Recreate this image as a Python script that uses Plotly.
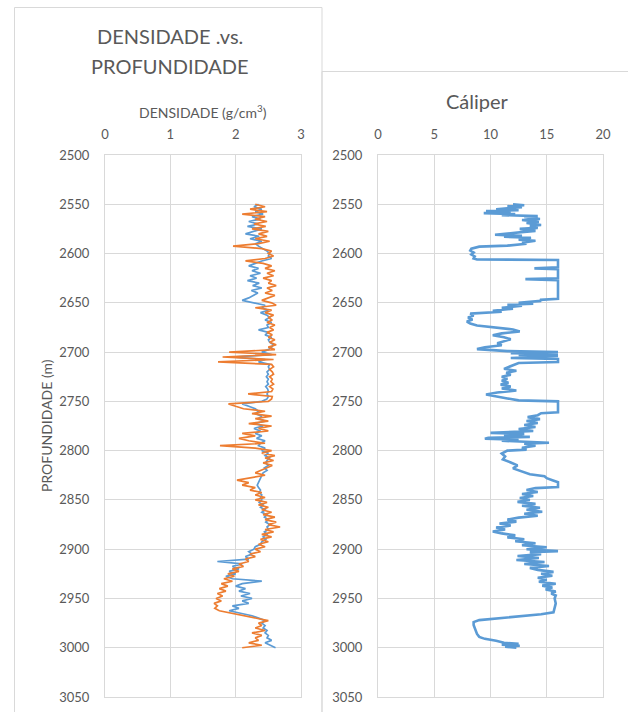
import plotly.graph_objects as go

# ---------------------------------------------------------------- data
# Density logs, sampled every 2.5 m between 2550 m and 3000 m
DENS_TOP, DENS_STEP = 2550.0, 2.5

dens_blue = [
    2.35, 2.28, 2.40, 2.30, 2.42, 2.25, 2.38, 2.20, 2.35, 2.18,
    2.40, 2.28, 2.15, 2.36, 2.22, 2.40, 2.30, 2.35, 2.42, 2.48,
    2.52, 2.50, 2.55, 2.40, 2.30, 2.20, 2.35, 2.25, 2.38, 2.22,
    2.32, 2.18, 2.36, 2.26, 2.40, 2.24, 2.34, 2.28, 2.20, 2.10,
    2.30, 2.45, 2.40, 2.50, 2.38, 2.48, 2.52, 2.45, 2.55, 2.48,
    2.50, 2.35, 2.50, 2.45, 2.55, 2.50, 2.52, 2.58, 2.55, 2.50,
    2.40, 2.55, 1.95, 2.45, 2.35, 2.52, 2.50, 2.52, 2.48, 2.50,
    2.47, 2.50, 2.48, 2.50, 2.46, 2.49, 2.50, 2.48, 2.50, 2.48,
    2.40, 2.10, 2.20, 2.30, 2.35, 2.30, 2.40, 2.35, 2.45, 2.30,
    2.42, 2.28, 2.38, 2.30, 2.40, 2.32, 2.45, 2.38, 2.35, 2.45,
    2.40, 2.50, 2.45, 2.52, 2.48, 2.46, 2.50, 2.44, 2.48, 2.42,
    2.40, 2.38, 2.36, 2.35, 2.33, 2.35, 2.38, 2.36, 2.40, 2.38,
    2.40, 2.36, 2.42, 2.38, 2.45, 2.40, 2.48, 2.44, 2.50, 2.46,
    2.52, 2.48, 2.50, 2.44, 2.48, 2.42, 2.46, 2.40, 2.38, 2.30,
    2.28, 2.20, 2.25, 2.15, 2.20, 1.72, 2.10, 1.95, 2.05, 1.90,
    2.00, 1.85, 1.95, 2.40, 2.10, 2.00, 2.15, 2.05, 2.22, 2.08,
    2.25, 2.10, 2.20, 1.95, 2.05, 1.90, 2.10, 2.25, 2.35, 2.45,
    2.40, 2.45, 2.42, 2.48, 2.45, 2.50, 2.48, 2.55, 2.45, 2.52,
    2.61,
]

dens_orange = [
    2.30, 2.45, 2.22, 2.48, 2.10, 2.45, 2.30, 2.48, 2.28, 2.46,
    2.25, 2.50, 2.35, 2.48, 2.30, 2.52, 2.35, 1.96, 2.40, 2.55,
    2.50, 2.58, 2.45, 2.15, 2.42, 2.55, 2.45, 2.60, 2.48, 2.58,
    2.42, 2.55, 2.50, 2.62, 2.48, 2.56, 2.45, 2.60, 2.50, 2.40,
    2.55, 2.62, 2.30, 2.55, 2.45, 2.58, 2.50, 2.56, 2.48, 2.60,
    2.52, 2.58, 2.48, 2.56, 2.50, 2.60, 2.52, 2.62, 2.50, 2.60,
    1.90, 2.62, 1.80, 2.58, 1.73, 2.55, 2.58, 2.52, 2.56, 2.58,
    2.52, 2.56, 2.54, 2.58, 2.52, 2.57, 2.55, 2.19, 2.56, 2.55,
    2.50, 1.89, 2.00, 2.12, 2.45, 2.25, 2.55, 2.30, 2.50, 2.20,
    2.55, 2.35, 2.50, 2.10, 2.30, 2.05, 2.20, 2.45, 1.76, 2.30,
    2.55, 2.40, 2.60, 2.45, 2.58, 2.42, 2.56, 2.48, 2.40, 2.30,
    2.45, 2.25, 2.02, 2.20, 2.10, 2.30, 2.22, 2.40, 2.30, 2.45,
    2.30, 2.48, 2.35, 2.50, 2.40, 2.55, 2.42, 2.60, 2.45, 2.62,
    2.50, 2.68, 2.45, 2.58, 2.40, 2.55, 2.38, 2.50, 2.35, 2.45,
    2.30, 2.38, 2.22, 2.30, 2.15, 2.20, 2.05, 2.12, 1.95, 2.05,
    1.88, 1.98, 1.82, 1.95, 1.78, 1.88, 1.75, 1.85, 1.72, 1.80,
    1.70, 1.78, 1.67, 1.72, 1.68, 1.75, 1.95, 2.10, 2.30, 2.50,
    2.35, 2.40, 2.30, 2.45, 2.25, 2.40, 2.30, 2.35, 2.20, 2.40,
    2.10,
]

dens_depth = [DENS_TOP + DENS_STEP * i for i in range(len(dens_blue))]

# Caliper log (in), irregularly picked depths (m)
cal_depth = [
    2550, 2551, 2552, 2553, 2555, 2556, 2557, 2558, 2559, 2560,
    2561, 2562, 2563, 2565, 2566, 2568, 2569, 2571, 2572, 2574,
    2575, 2577, 2578, 2580, 2581, 2582, 2583, 2584, 2586, 2587,
    2589, 2590, 2592, 2593, 2595, 2597, 2599, 2601, 2603, 2605,
    2606, 2606.5, 2614, 2615, 2616, 2625, 2626, 2627, 2646, 2647,
    2648, 2650, 2651, 2652, 2653, 2655, 2656, 2658, 2659, 2661,
    2663, 2665, 2667, 2669, 2671, 2673, 2675, 2677, 2679, 2681,
    2683, 2685, 2687, 2689, 2691, 2693, 2695, 2697, 2698, 2699,
    2700, 2701, 2702, 2703, 2704, 2706, 2707, 2710, 2711, 2713,
    2715, 2717, 2719, 2721, 2723, 2725, 2727, 2729, 2731, 2733,
    2735, 2737, 2739, 2741, 2743, 2745, 2747, 2749, 2750, 2761,
    2762, 2764, 2766, 2768, 2770, 2772, 2774, 2776, 2778, 2780,
    2781, 2782, 2783, 2785, 2786, 2787, 2788, 2789, 2790, 2791,
    2792, 2793, 2795, 2797, 2799, 2800, 2803, 2806, 2809, 2812,
    2815, 2818, 2821, 2824, 2826, 2828, 2830, 2832, 2837, 2838,
    2840, 2842, 2844, 2846, 2848, 2850, 2852, 2854, 2856, 2858,
    2860, 2862, 2864, 2866, 2868, 2870, 2872, 2874, 2876, 2878,
    2880, 2882, 2884, 2886, 2888, 2890, 2892, 2894, 2896, 2898,
    2900, 2902, 2903, 2905, 2907, 2909, 2911, 2913, 2915, 2917,
    2919, 2921, 2923, 2925, 2927, 2929, 2931, 2933, 2935, 2937,
    2939, 2941, 2943, 2945, 2947, 2950, 2955, 2960, 2964, 2966,
    2968, 2970, 2972, 2974, 2977, 2980, 2983, 2986, 2989, 2991,
    2993, 2995, 2996, 2997, 2998, 2999, 3000,
]

cal_value = [
    12.0, 13.0, 11.5, 12.8, 10.5, 12.5, 9.6, 11.8, 9.4, 12.2,
    11.0, 14.2, 13.0, 14.4, 12.8, 14.3, 13.2, 14.5, 13.5, 14.2,
    12.6, 14.0, 13.0, 11.0, 10.4, 12.8, 11.2, 13.6, 12.5, 14.0,
    12.8, 13.2, 11.5, 9.0, 8.3, 8.2, 8.5, 8.3, 8.6, 8.5,
    8.8, 16.0, 16.0, 13.9, 16.0, 16.0, 13.1, 16.0, 16.0, 14.4,
    14.5, 12.5, 13.8, 11.5, 12.8, 11.0, 12.0, 10.2, 11.0, 8.2,
    8.5, 8.0, 8.4, 7.9, 8.2, 8.8, 10.5, 12.0, 12.6, 11.0,
    10.2, 11.2, 11.8, 11.2, 10.6, 11.0, 9.5, 8.8, 10.5, 11.5,
    16.0, 11.8, 16.0, 12.5, 16.0, 11.8, 16.0, 16.0, 12.5, 12.0,
    11.6, 11.2, 12.3, 11.4, 11.8, 11.0, 11.5, 11.0, 11.6, 10.9,
    11.8, 11.0, 12.3, 10.6, 9.6, 10.4, 11.5, 12.5, 16.0, 16.0,
    14.5, 14.2, 13.3, 14.4, 13.2, 14.2, 13.0, 14.0, 12.5, 13.8,
    12.0, 10.0, 13.0, 11.2, 13.5, 9.8, 9.5, 12.5, 11.0, 14.0,
    15.2, 13.0, 14.0, 12.8, 13.2, 11.5, 11.0, 11.3, 11.1, 11.8,
    12.4, 12.0, 12.8, 13.5, 14.8, 15.0, 15.5, 16.0, 16.0, 14.0,
    13.2, 14.2, 12.8, 13.8, 12.6, 13.5, 12.4, 14.0, 12.8, 14.4,
    13.2, 14.6, 13.0, 14.2, 12.5, 11.5, 12.3, 10.8, 11.8, 10.5,
    11.3, 10.2, 11.0, 12.2, 11.5, 13.0, 12.2, 14.0, 12.8, 15.0,
    13.2, 16.0, 13.5, 14.5, 12.4, 14.3, 12.3, 14.8, 13.0, 15.2,
    13.5, 14.2, 15.6, 14.5, 15.5, 14.2, 15.0, 14.3, 15.8, 14.6,
    15.5, 14.9, 15.8, 15.4, 15.8, 15.7, 15.8, 15.7, 15.6, 14.5,
    12.5, 10.5, 9.0, 8.5, 8.5, 8.6, 8.7, 8.8, 9.0, 9.5,
    10.5, 11.2, 12.5, 11.0, 12.6, 11.3, 12.3,
]

depth_ticks = [2500, 2550, 2600, 2650, 2700, 2750, 2800, 2850, 2900, 2950, 3000, 3050]

# ---------------------------------------------------------------- style
W, H = 628, 712
FONT = "Lato"
TXT = "#595959"
GRID = "#D9D9D9"
BLUE = "#5B9BD5"
ORANGE = "#ED7D31"


def px(x):
    return x / W


def py(y):
    return 1 - y / H


fig = go.Figure()

fig.add_trace(go.Scatter(x=dens_blue, y=dens_depth, mode="lines",
                         line=dict(color=BLUE, width=1.7),
                         xaxis="x", yaxis="y", name="Densidade A"))
fig.add_trace(go.Scatter(x=dens_orange, y=dens_depth, mode="lines",
                         line=dict(color=ORANGE, width=1.7),
                         xaxis="x", yaxis="y", name="Densidade B"))
fig.add_trace(go.Scatter(x=cal_value, y=cal_depth, mode="lines",
                         line=dict(color=BLUE, width=2.6),
                         xaxis="x2", yaxis="y2", name="Cáliper"))

common_x = dict(side="top", showgrid=True, gridcolor=GRID, gridwidth=1,
                showline=True, linecolor=GRID, mirror=True, zeroline=False,
                ticks="outside", ticklen=10, tickcolor="rgba(0,0,0,0)",
                automargin=False,
                tickfont=dict(family=FONT, size=13, color=TXT), fixedrange=True)
common_y = dict(range=[3050, 2500], tickvals=depth_ticks, showgrid=True,
                gridcolor=GRID, gridwidth=1, showline=True, linecolor=GRID,
                mirror=True, zeroline=False, ticks="outside", ticklen=12,
                tickcolor="rgba(0,0,0,0)", automargin=False,
                tickfont=dict(family=FONT, size=13, color=TXT), fixedrange=True)

fig.update_layout(
    template="none",
    width=W, height=H,
    autosize=False,
    margin=dict(l=0, r=0, t=0, b=0, pad=0),
    paper_bgcolor="white", plot_bgcolor="white",
    showlegend=False,
    xaxis=dict(common_x, domain=[px(105), px(301)], range=[0, 3],
               tickvals=[0, 1, 2, 3], anchor="y"),
    yaxis=dict(common_y, domain=[py(697), py(155)], anchor="x"),
    xaxis2=dict(common_x, domain=[px(378), px(603)], range=[0, 20],
                tickvals=[0, 5, 10, 15, 20], anchor="y2"),
    yaxis2=dict(common_y, domain=[py(697), py(155)], anchor="x2"),
)

# chart-area frames
fig.add_shape(type="rect", xref="paper", yref="paper",
              x0=px(14.5), x1=px(322), y0=-0.1, y1=py(7.5),
              line=dict(color=GRID, width=1), fillcolor="rgba(0,0,0,0)", layer="below")
fig.add_shape(type="rect", xref="paper", yref="paper",
              x0=px(322), x1=1.1, y0=-0.1, y1=py(71.5),
              line=dict(color=GRID, width=1), fillcolor="rgba(0,0,0,0)", layer="below")

# titles
fig.add_annotation(text="DENSIDADE .vs.", x=px(170), y=py(36), xref="paper", yref="paper",
                   showarrow=False, xanchor="center", yanchor="middle",
                   font=dict(family=FONT, size=20, color=TXT))
fig.add_annotation(text="PROFUNDIDADE", x=px(170), y=py(66), xref="paper", yref="paper",
                   showarrow=False, xanchor="center", yanchor="middle",
                   font=dict(family=FONT, size=20, color=TXT))
fig.add_annotation(text="Cáliper", x=px(477), y=py(101), xref="paper", yref="paper",
                   showarrow=False, xanchor="center", yanchor="middle",
                   font=dict(family=FONT, size=20, color=TXT))
fig.add_annotation(text="DENSIDADE (g/cm<sup>3</sup>)", x=px(203), y=py(112),
                   xref="paper", yref="paper", showarrow=False,
                   xanchor="center", yanchor="middle",
                   font=dict(family=FONT, size=14, color=TXT))
fig.add_annotation(text="PROFUNDIDADE (m)", x=px(46), y=py(426), xref="paper", yref="paper",
                   showarrow=False, textangle=-90, xanchor="center", yanchor="middle",
                   font=dict(family=FONT, size=14, color=TXT))

fig.write_html("out.html")
